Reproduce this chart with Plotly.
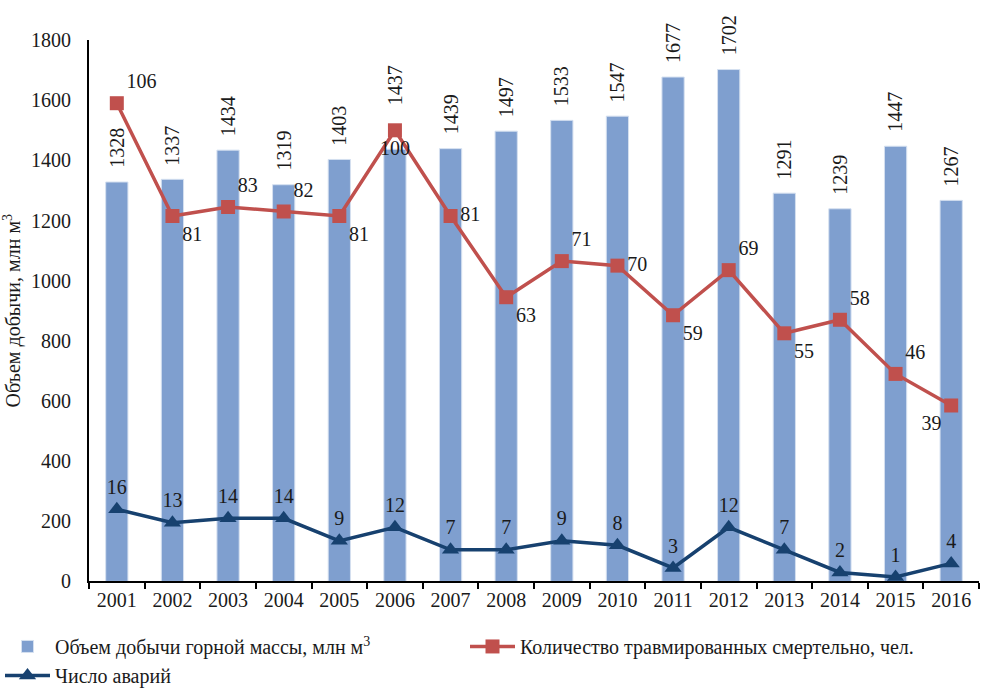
import plotly.graph_objects as go

years = ["2001","2002","2003","2004","2005","2006","2007","2008","2009","2010","2011","2012","2013","2014","2015","2016"]
volume = [1328,1337,1434,1319,1403,1437,1439,1497,1533,1547,1677,1702,1291,1239,1447,1267]
fatalities = [106,81,83,82,81,100,81,63,71,70,59,69,55,58,46,39]
accidents = [16,13,14,14,9,12,7,7,9,8,3,12,7,2,1,4]
fat_pos = ["top right","bottom right","top right","top right","bottom right","bottom center",
           "middle right","bottom right","top right","middle right","bottom right","top right",
           "bottom right","top right","top right","bottom left"]
bar_label_extra_shift = {"2006": 30}

FONT = "Liberation Serif"
TXT = "#1a1a1a"
W, H = 993, 698
fig = go.Figure()
fig.add_trace(go.Bar(
    x=years, y=volume, name="Объем добычи горной массы, млн м<sup>3</sup>",
    marker=dict(color="#7F9FCF", line=dict(color="#D5E0F0", width=1)),
))
fig.add_trace(go.Scatter(
    x=years, y=fatalities, yaxis="y2", name="Количество травмированных смертельно, чел.",
    mode="lines+markers+text", line=dict(color="#C0504D", width=3.5),
    marker=dict(symbol="square", size=14, color="#C0504D"),
    text=[str(v) for v in fatalities], textposition=fat_pos,
    textfont=dict(family=FONT, size=20, color=TXT), cliponaxis=False,
))
fig.add_trace(go.Scatter(
    x=years, y=accidents, yaxis="y2", name="Число аварий",
    mode="lines+markers+text", line=dict(color="#17416F", width=3.5),
    marker=dict(symbol="triangle-up", size=15, color="#17416F"),
    text=[str(v) for v in accidents], textposition="top center",
    textfont=dict(family=FONT, size=20, color=TXT), cliponaxis=False,
))

# bar value labels; on a category axis annotations use the category index
for i, v in enumerate(volume):
    fig.add_annotation(x=i, y=v, xref="x", yref="y", text=str(v), showarrow=False,
                       textangle=-90, yanchor="bottom", xanchor="center",
                       yshift=12 + bar_label_extra_shift.get(years[i], 0),
                       font=dict(family=FONT, size=20, color=TXT))

fig.update_layout(
    width=W, height=H,
    margin=dict(l=0, r=0, t=0, b=0),
    plot_bgcolor="white", paper_bgcolor="white",
    font=dict(family=FONT, size=20, color=TXT),
    bargap=0.6,
    showlegend=True,
    legend=dict(orientation="h", x=0.0, xanchor="left", y=1 - 636 / H, yanchor="top",
                entrywidth=405, entrywidthmode="pixels",
                font=dict(family=FONT, size=20, color=TXT), itemwidth=45,
                traceorder="normal"),
    xaxis=dict(type="category", range=[-0.5, len(years) - 0.5],
               domain=[89 / W, 979 / W], showline=True, linecolor="black", linewidth=2,
               ticks="outside", tickson="boundaries", ticklen=6, tickcolor="black",
               tickwidth=1.5, tickfont=dict(family=FONT, size=20, color=TXT),
               showgrid=False),
    yaxis=dict(domain=[1 - 589 / H, 1 - 30 / H], range=[0, 1800], dtick=200,
               showline=True, linecolor="black", linewidth=2,
               showgrid=False, zeroline=False, ticks="outside", ticklen=12, tickcolor="white",
               tickfont=dict(family=FONT, size=20, color=TXT),
               title=dict(text="Объем добычи, млн м<sup>3</sup>", standoff=10,
                          font=dict(family=FONT, size=20, color=TXT))),
    yaxis2=dict(domain=[1 - 589 / H, 1 - 30 / H], range=[0, 120], overlaying="y",
                side="right", visible=False),
)
fig.write_html("out.html")
